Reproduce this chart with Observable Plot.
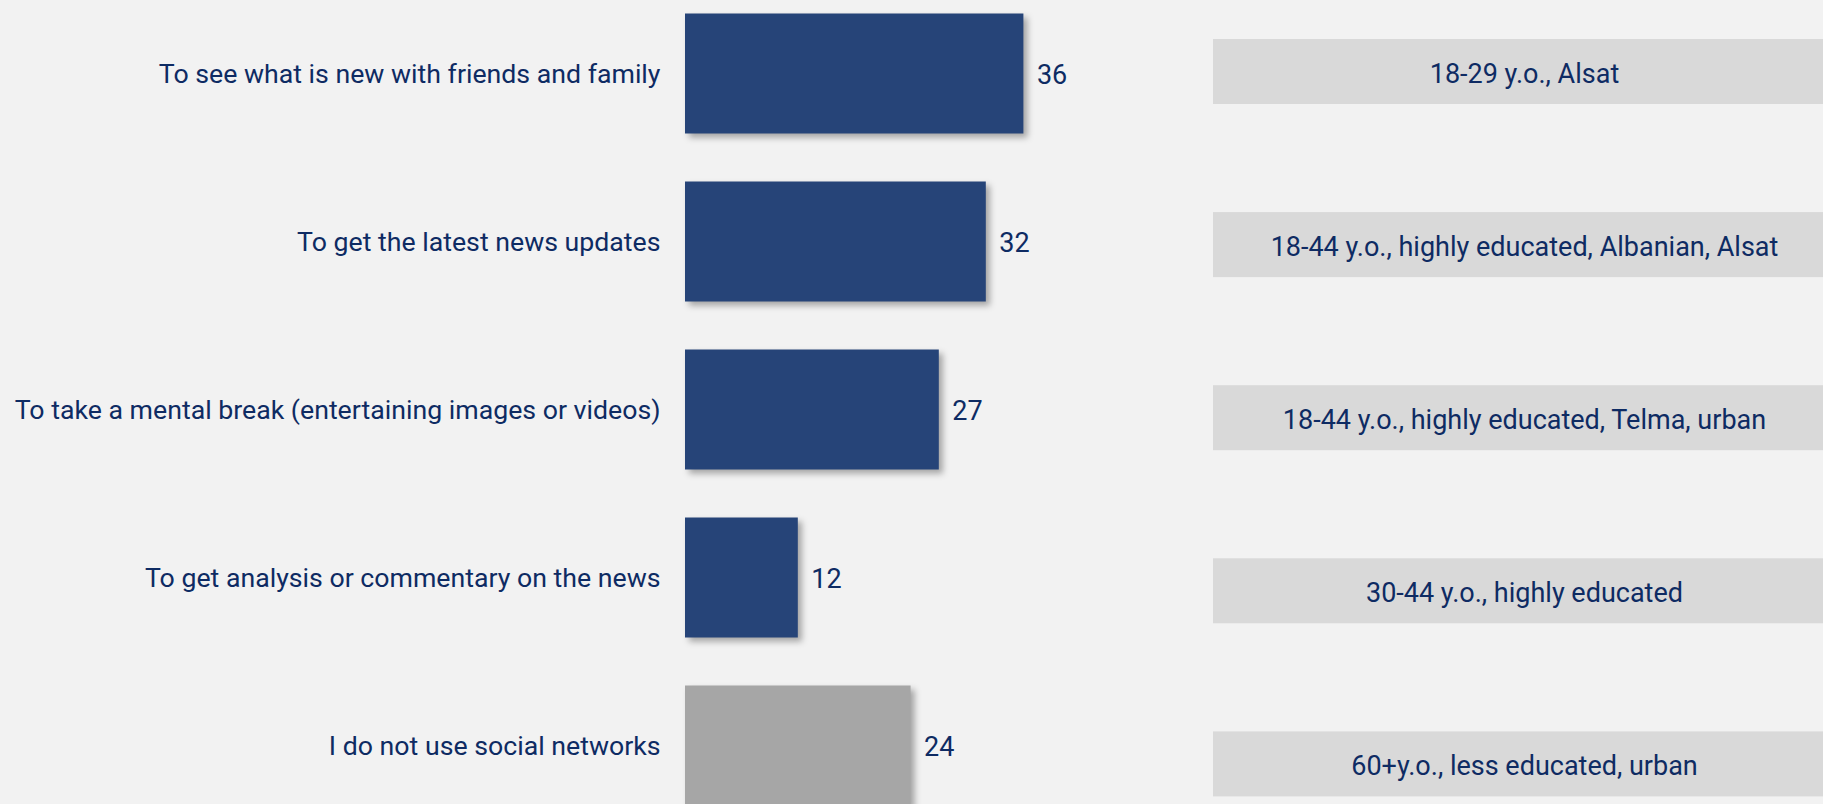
<!DOCTYPE html>
<html>
<head>
<meta charset="utf-8">
<script src="https://cdn.jsdelivr.net/npm/d3@7"></script>
<script src="https://cdn.jsdelivr.net/npm/@observablehq/plot@0.6"></script>
<style>
  html, body { margin: 0; padding: 0; background: #f2f2f2; overflow: hidden; }
  #wrap { position: relative; width: 1823px; height: 804px; overflow: hidden; background: #f2f2f2; }
  #bars, #profiles { position: absolute; top: 0; height: 804px; }
  #bars { left: 0; width: 1213px; }
  #profiles { left: 1213px; width: 622px; }
  #wrap svg { max-width: none !important; }
  #bars g[aria-label="bar"] rect { filter: drop-shadow(4px 4px 3px rgba(0, 0, 0, 0.32)); }
</style>
</head>
<body>
<div id="wrap">
  <div id="bars"></div>
  <div id="profiles"></div>
</div>
<script>
// Reasons for using social networks (%), with the group most likely to give each answer
const reasons = [
  "To see what is new with friends and family",
  "To get the latest news updates",
  "To take a mental break (entertaining images or videos)",
  "To get analysis or commentary on the news",
  "I do not use social networks"
];
const shares = [36, 32, 27, 12, 24];
const kinds = ["user", "user", "user", "user", "non-user"];
const profiles = [
  "18-29 y.o., Alsat",
  "18-44 y.o., highly educated, Albanian, Alsat",
  "18-44 y.o., highly educated, Telma, urban",
  "30-44 y.o., highly educated",
  "60+y.o., less educated, urban"
];

const rows = reasons.map((reason, i) => ({
  reason, share: shares[i], kind: kinds[i], profile: profiles[i]
}));

const ink = "#0e2b63";
const font = "Roboto, 'Noto Sans', sans-serif";
const size = 27;

// Left: horizontal bars with the answer labels on the left and values on the right
const bars = Plot.plot({
  width: 1213,
  height: 804,
  marginLeft: 685, marginRight: 0, marginTop: 0, marginBottom: 0,
  style: { background: "transparent", color: ink, fontFamily: font, fontSize: `${size}px`, overflow: "hidden" },
  x: { domain: [0, 40], range: [685, 685 + 40 * 9.4], axis: null },
  y: { domain: reasons, range: [-34.5, 853.5], padding: 0.2857, round: false, axis: null },
  color: { domain: ["user", "non-user"], range: ["#264478", "#a6a6a6"] },
  marks: [
    Plot.barX(rows, { x: "share", y: "reason", fill: "kind" }),
    Plot.axisY({ tickSize: 0, tickPadding: 25, fontSize: 26.7, fill: ink, label: null }),
    Plot.text(rows, { x: "share", y: "reason", text: d => String(d.share), dx: 13, dy: 1.5, textAnchor: "start", fontSize: size, fill: ink })
  ]
});
document.getElementById("bars").append(bars);

// Right: grey boxes naming the profile most associated with each answer
const step = 173.1, boxH = 65, firstCenter = 71.5;
const side = Plot.plot({
  width: 622,
  height: 804,
  marginLeft: 0, marginRight: 0, marginTop: 0, marginBottom: 0,
  style: { background: "transparent", color: ink, fontFamily: font, fontSize: `${size}px`, overflow: "hidden" },
  x: { domain: [0, 1], range: [0, 622], axis: null },
  y: { domain: reasons, range: [firstCenter - step / 2, firstCenter - step / 2 + reasons.length * step], padding: 0, round: false, axis: null },
  marks: [
    Plot.barX(rows, { x1: 0, x2: 1, y: "reason", fill: "#d9d9d9", insetTop: (step - boxH) / 2, insetBottom: (step - boxH) / 2 }),
    Plot.text(rows, { x: 0.5, y: "reason", text: "profile", textAnchor: "middle", dy: 2, fontSize: size, fill: ink })
  ]
});
document.getElementById("profiles").append(side);
</script>
</body>
</html>
